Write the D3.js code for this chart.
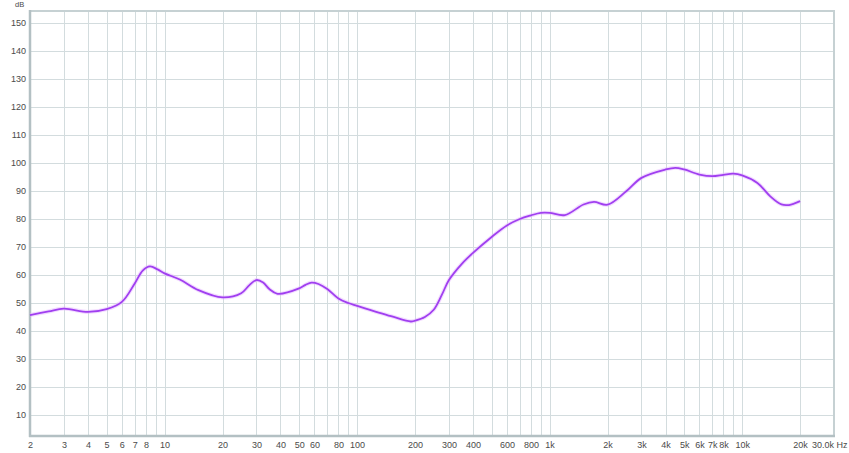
<!DOCTYPE html>
<html><head><meta charset="utf-8">
<script src="https://cdn.jsdelivr.net/npm/d3@7"></script>
<style>body{margin:0;background:#fff;}svg{display:block;font-family:"Liberation Sans",Arial,sans-serif;}</style>
</head><body>
<svg id="c" width="849" height="453"></svg>
<script>
const freqs = [2,2.5,3,4,5,6,7,7.7,8.4,9.2,10,12,15,20,25,27.5,30,32.5,35,38.6,50,54,58,63,70,80,90,100,150,190,200,225,250,275,300,350,400,500,600,700,800,900,1000,1200,1500,1700,2000,2500,3000,4000,4500,5000,6000,7000,8000,9000,10000,12000,14000,16000,17500,20000];
const levels = [45.7,47,48,46.8,47.8,50.4,57,61.6,63.1,62,60.6,58.4,54.6,52,53.5,56.3,58.2,57.3,55,53.3,55.2,56.5,57.3,56.8,55,51.6,50,49,45.3,43.4,43.7,45,47.6,52.8,58.2,64,67.9,73.6,77.7,80,81.3,82.2,82.2,81.4,85.2,86.1,85.1,89.9,94.7,97.7,98.3,97.7,95.9,95.3,95.8,96.2,95.6,92.9,88.1,85.2,85,86.4];
const xTickValues = [2,3,4,5,6,7,8,10,20,30,40,50,60,80,100,200,300,400,600,800,1000,2000,3000,4000,5000,6000,7000,8000,10000,20000,30000];
const xTickLabels = ["2","3","4","5","6","7","8","10","20","30","40","50","60","80","100","200","300","400","600","800","1k","2k","3k","4k","5k","6k","7k","8k","10k","20k","30.0k Hz"];
const yTickValues = [10,20,30,40,50,60,70,80,90,100,110,120,130,140,150];

const svg = d3.select("#c");
const L = 30, R = 834, T = 11, B = 436;
const x = d3.scaleLog().domain([2, 30000]).range([L, R]);
const y = d3.scaleLinear().domain([2.5, 154.3]).range([B, T]);

const gridF = [];
for (let d = 1; d <= 10000; d *= 10) for (let m = 1; m <= 9; m++) { const f = m * d; if (f > 2 && f < 30000) gridF.push(f); }
const grid = svg.append("g").attr("stroke", "#d3dcde").attr("stroke-width", 1);
grid.selectAll("line.v").data(gridF).join("line").attr("class","v")
  .attr("x1", d => Math.round(x(d)) + 0.5).attr("x2", d => Math.round(x(d)) + 0.5).attr("y1", T).attr("y2", B);
grid.selectAll("line.h").data(yTickValues).join("line").attr("class","h")
  .attr("x1", L).attr("x2", R).attr("y1", d => Math.round(y(d)) + 0.5).attr("y2", d => Math.round(y(d)) + 0.5);

svg.append("rect").attr("x", L).attr("y", T).attr("width", R - L).attr("height", B - T)
  .attr("fill", "none").attr("stroke", "#c6d1d3").attr("stroke-width", 2);
svg.append("line").attr("x1", L).attr("x2", L).attr("y1", T - 1).attr("y2", B + 1).attr("stroke", "#b3c0c3").attr("stroke-width", 2.5);
svg.append("line").attr("x1", L - 1).attr("x2", R + 1).attr("y1", B).attr("y2", B).attr("stroke", "#b3c0c3").attr("stroke-width", 2.5);

const xAxis = d3.axisBottom(x).tickValues(xTickValues).tickFormat((d, i) => xTickLabels[i]).tickSize(0).tickPadding(6);
const gx = svg.append("g").attr("transform", `translate(0,${B})`).call(xAxis);
gx.select(".domain").remove();
gx.selectAll("text").attr("fill", "#4a4a4a").attr("font-size", 9).attr("font-family", '"Liberation Sans",Arial,sans-serif');
gx.selectAll(".tick").filter(d => d === 30000).select("text").attr("text-anchor", "end").attr("dx", 13);

const yAxis = d3.axisLeft(y).tickValues(yTickValues).tickSize(0).tickPadding(4);
const gy = svg.append("g").attr("transform", `translate(${L},0)`).call(yAxis);
gy.select(".domain").remove();
gy.selectAll("text").attr("fill", "#4a4a4a").attr("font-size", 9).attr("font-family", '"Liberation Sans",Arial,sans-serif');

svg.append("text").attr("x", 15).attr("y", 7).attr("font-size", 7.5).attr("fill", "#4a4a4a").text("dB");

const data = freqs.map((f, i) => [f, levels[i]]);
const line = d3.line().x(d => x(d[0])).y(d => y(d[1])).curve(d3.curveCatmullRom.alpha(0.5));
svg.append("path").datum(data).attr("d", line).attr("fill", "none").attr("stroke", "#e2b0ff").attr("stroke-width", 4).attr("stroke-opacity", 0.45);
svg.append("path").datum(data).attr("d", line).attr("fill", "none").attr("stroke", "#a03ff0").attr("stroke-width", 1.8);
</script>
</body></html>
